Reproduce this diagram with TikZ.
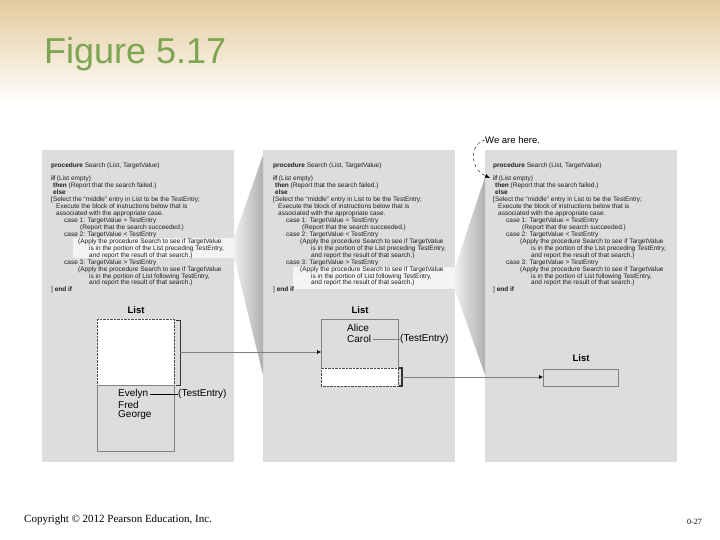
\documentclass[tikz,border=0pt]{standalone}
\usepackage{fontspec}
\setmainfont{Liberation Sans}
\newfontfamily\serifface{Liberation Serif}
\usetikzlibrary{arrows.meta}

\definecolor{slidetan}{RGB}{228,203,158}
\definecolor{titlegreen}{RGB}{124,166,82}
\definecolor{panelgray}{RGB}{221,221,221}
\definecolor{fanlight}{RGB}{238,238,238}
\definecolor{fandark}{RGB}{176,176,176}
\definecolor{boxline}{RGB}{128,128,128}
\definecolor{inkgray}{RGB}{30,30,30}

\newcommand{\searchproc}{%
\textbf{procedure} Search (List, TargetValue)\\[6pt]
\textbf{if} (List empty)\\
\hspace*{2pt}\textbf{then} (Report that the search failed.)\\
\hspace*{2pt}\textbf{else}\\
{[}Select the “middle” entry in List to be the TestEntry;\\
\hspace*{5pt}Execute the block of instructions below that is\\
\hspace*{5pt}associated with the appropriate case.\\
\hspace*{13pt}case 1: TargetValue = TestEntry\\
\hspace*{29pt}(Report that the search succeeded.)\\
\hspace*{13pt}case 2: TargetValue < TestEntry\\
\hspace*{27pt}(Apply the procedure Search to see if TargetValue\\
\hspace*{38pt}is in the portion of the List preceding TestEntry,\\
\hspace*{38pt}and report the result of that search.)\\
\hspace*{13pt}case 3: TargetValue > TestEntry\\
\hspace*{27pt}(Apply the procedure Search to see if TargetValue\\
\hspace*{38pt}is in the portion of List following TestEntry,\\
\hspace*{38pt}and report the result of that search.)\\
{]} \textbf{end if}}

\begin{document}
\begin{tikzpicture}[x=1pt,y=-1pt,
  panel/.style={fill=panelgray},
  fan/.style={left color=fanlight, right color=fandark},
  glow/.style={fill=white, opacity=.7},
  codetext/.style={anchor=north west, inner sep=0, align=left, text=inkgray,
    font=\fontsize{6.5}{6.94}\selectfont},
  listlabel/.style={font=\bfseries\fontsize{9.5}{11}\selectfont, inner sep=0},
  entry/.style={anchor=west, inner sep=0, font=\fontsize{10}{12}\selectfont},
  listbox/.style={anchor=north west, draw=boxline, fill=panelgray, inner sep=0},
  emptyslot/.style={anchor=north west, draw=black!70, densely dotted, fill=white, inner sep=0},
  bracket/.style={draw=black!80, thick},
  link/.style={draw=boxline, -{Latex[black,length=4pt,width=4pt]}}]
  \useasboundingbox (0,0) rectangle (720,540);
  \shade[top color=slidetan, bottom color=white] (0,0) rectangle (720,105);

  % three calls of Search
  \fill[panel] (42,150) rectangle (234,462);
  \fill[panel] (263,150) rectangle (455,462);
  \fill[panel] (485,150) rectangle (677,462);
  \shade[fan] (234,238) -- (263,155) -- (263,375) -- (234,257) -- cycle;
  \shade[fan] (455,268) -- (485,177) -- (485,375) -- (455,290) -- cycle;
  \fill[glow] (73,238) rectangle (234,258);
  \fill[glow] (293,267) rectangle (455,289);

  \node[codetext] (codeA) at (51,163) {\searchproc};
  \node[codetext] (codeB) at (273,163) {\searchproc};
  \node[codetext] (codeC) at (493,163) {\searchproc};

  % first call
  \node[listlabel] (lblA) at (136,310) {List};
  \node[emptyslot, minimum width=77pt, minimum height=66pt] (slotA) at (97,319) {};
  \node[listbox, minimum width=77pt, minimum height=66pt] (boxA) at (97,385) {};
  \node[entry] (evelyn) at (118,394) {Evelyn};
  \node[entry] (fred) at (118,404.5) {Fred};
  \node[entry] (george) at (118,415) {George};
  \node[entry] (teA) at (178,394) {(TestEntry)};
  \draw[thick, shorten <=1.5pt] (evelyn.east) -- (teA.west);
  \draw[bracket] (176,320) -- (180,320) -- (180,385) -- (176,385);
  \coordinate (brA) at (180,352);

  % second call
  \node[listlabel] (lblB) at (360,310) {List};
  \node[listbox, minimum width=77pt, minimum height=49pt] (boxB) at (321,319) {};
  \node[emptyslot, minimum width=77pt, minimum height=18pt] (slotB) at (321,368) {};
  \node[entry] (alice) at (347,328) {Alice};
  \node[entry] (carol) at (347,339) {Carol};
  \node[entry] (teB) at (400,339) {(TestEntry)};
  \draw[draw=boxline, shorten <=2pt] (carol.east) -- (teB.west);
  \draw[bracket, line width=1.4pt] (399,368) -- (402,368) -- (402,386) -- (399,386);
  \coordinate (brB) at (402,377);
  \draw[link] (brA) -- (brA -| boxB.west);

  % third call
  \node[listlabel] (lblC) at (581,358) {List};
  \node[listbox, minimum width=75pt, minimum height=17pt] (boxC) at (543,369) {};
  \draw[link] (brB) -- (brB -| boxC.west);

  \node[anchor=west, inner sep=0, font=\fontsize{9.5}{11}\selectfont] (here) at (485,140) {We are here.};
  \coordinate (ifC) at (490,178);
  \draw[dashed, -{Latex[length=5pt,width=4pt]}] (here.west) .. controls (471,142) and (468,168) .. (ifC);

  % slide frame
  \node[anchor=base west, inner sep=0, text=titlegreen, font=\fontsize{36}{40}\selectfont] (title) at (44,64) {Figure 5.17};
  \node[anchor=base west, inner sep=0, font=\serifface\fontsize{11}{13}\selectfont] (copy) at (24,522) {Copyright © 2012 Pearson Education, Inc.};
  \node[anchor=base west, inner sep=0, font=\serifface\fontsize{8}{10}\selectfont] (page) at (687,524) {0-27};
\end{tikzpicture}
\end{document}
